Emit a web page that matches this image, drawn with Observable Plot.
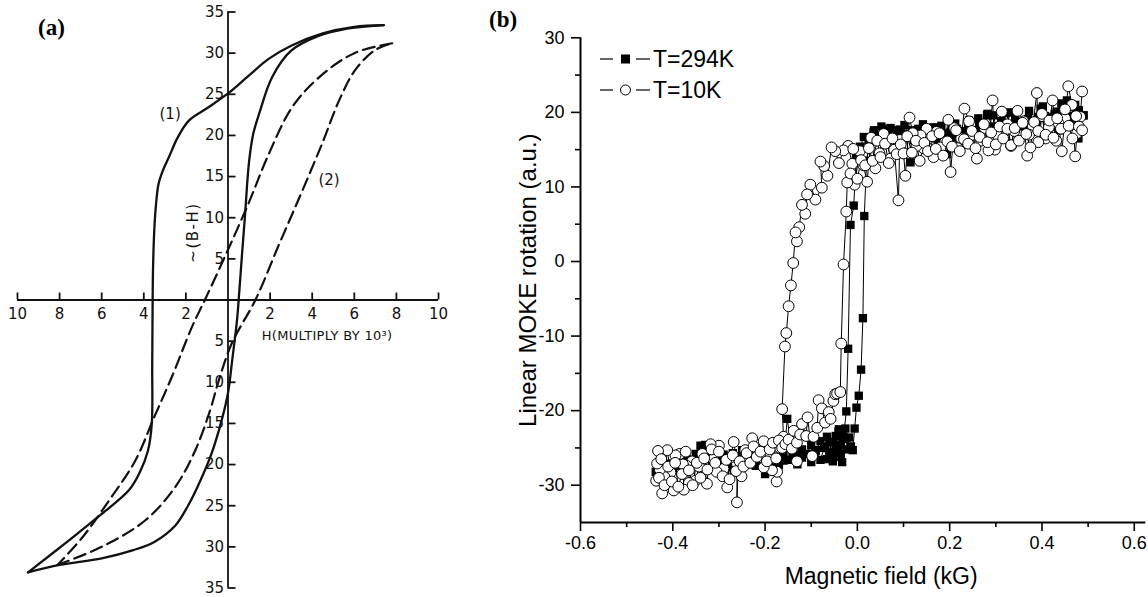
<!DOCTYPE html>
<html>
<head>
<meta charset="utf-8">
<script src="https://cdn.jsdelivr.net/npm/d3@7"></script>
<script src="https://cdn.jsdelivr.net/npm/@observablehq/plot@0.6"></script>
<style>
  html, body { margin: 0; padding: 0; background: #fff; overflow: hidden; }
  #wrap { position: relative; width: 1148px; height: 597px; }
  #pa { position: absolute; left: 0; top: 0; }
  #pb { position: absolute; left: 470px; top: 0; }
  .plabel { position: absolute; font-family: "Liberation Serif", "Times New Roman", serif; font-weight: bold; font-size: 23px; color: #000; }
</style>
</head>
<body>
<div id="wrap">
  <div id="pa"></div>
  <div id="pb"></div>
  <div class="plabel" style="left:38px; top:15px;">(a)</div>
  <div class="plabel" style="left:489px; top:7px;">(b)</div>
</div>
<script>
// ---------------- Panel (a): B-H hysteresis loops ----------------
const aXTicks = [-10, -8, -6, -4, -2, 2, 4, 6, 8, 10];
const aYTicks = [-35, -30, -25, -20, -15, -10, -5, 5, 10, 15, 20, 25, 30, 35];

// curve (1), solid: descending branch (upper-left) and ascending branch (lower-right)
const loop1Down = [[7.4,33.4],[6,33.2],[4.5,32.4],[3,30.9],[1.93,29.3],[1,27.3],[0,25.1],[-1,23.3],[-1.86,21.8],[-2.4,19.7],[-2.8,17.4],[-3.1,15.7],[-3.3,14.1],[-3.42,11.6],[-3.5,8.6],[-3.56,4],[-3.58,0],[-3.6,-8],[-3.62,-15],[-3.8,-18.3],[-4.2,-21],[-4.7,-23.1],[-6,-26],[-7.6,-29.3],[-9.5,-33.1]];
const loop1Up = [[-9.5,-33.1],[-8,-32.2],[-6,-31.4],[-4.5,-30.4],[-3.5,-29.4],[-2.5,-27.4],[-1.9,-25],[-1.5,-23],[-0.8,-18.8],[-0.3,-14.6],[0,-11.3],[0.2,-7.3],[0.43,-2.4],[0.55,1.5],[0.65,5],[0.8,10],[1,16.8],[1.2,20.2],[1.5,22.8],[2.1,27.1],[3,30.3],[4.3,32.1],[5.5,32.9],[7.4,33.4]];
// curve (2), dashed
const loop2Down = [[7.8,31.2],[6,30],[4.3,27],[3.04,23.4],[1.93,17.7],[1,11.9],[0,6.1],[-1.1,0],[-1.7,-3.2],[-2.66,-9.3],[-3.5,-14.2],[-4.4,-19.5],[-5.66,-24.4],[-6.9,-28.8],[-8.1,-32.2]];
const loop2Up = [[-8.1,-32.2],[-6,-30],[-3.94,-26.8],[-2.5,-22.7],[-1.56,-18.3],[-0.85,-13.4],[-0.43,-9.7],[0.19,-5.2],[1.3,0],[2.4,6.6],[3.5,13.1],[4.47,19],[5.27,24.2],[6.03,27.9],[7,30.4],[7.8,31.2]];

const aFont = "DejaVu Sans, sans-serif";
const fmtAbs = d => String(Math.abs(d));
const ax = d => d[0], ay = d => d[1];

const plotA = Plot.plot({
  width: 460, height: 597,
  marginLeft: 17, marginRight: 22, marginTop: 11.5, marginBottom: 9.5,
  x: {domain: [-10, 10], axis: null},
  y: {domain: [-35, 35], axis: null},
  style: {fontFamily: aFont, background: "white", overflow: "visible"},
  marks: [
    Plot.ruleY([0], {y: d => d, stroke: "#111", strokeWidth: 1.8}),
    Plot.ruleX([0], {x: d => d, stroke: "#111", strokeWidth: 1.8}),
    Plot.ruleX(aXTicks, {x: d => d, y1: () => 0, y2: () => 0.85, stroke: "#111", strokeWidth: 1.8}),
    Plot.ruleY(aYTicks, {y: d => d, x1: () => 0, x2: () => 0.38, stroke: "#111", strokeWidth: 1.8}),
    Plot.text(aXTicks, {x: d => d, y: () => 0, dy: 14, text: fmtAbs, fontSize: 15, fill: "#111"}),
    Plot.text(aYTicks, {x: () => 0, y: d => d, dx: -4, textAnchor: "end", text: fmtAbs, fontSize: 15, fill: "#111"}),
    Plot.line(loop1Down, {x: ax, y: ay, curve: "catmull-rom", stroke: "#111", strokeWidth: 2.3}),
    Plot.line(loop1Up, {x: ax, y: ay, curve: "catmull-rom", stroke: "#111", strokeWidth: 2.3}),
    Plot.line(loop2Down, {x: ax, y: ay, curve: "catmull-rom", stroke: "#111", strokeWidth: 2.2, strokeDasharray: "12,6"}),
    Plot.line(loop2Up, {x: ax, y: ay, curve: "catmull-rom", stroke: "#111", strokeWidth: 2.2, strokeDasharray: "12,6"}),
    Plot.text(["(1)"], {x: () => -2.75, y: () => 22.6, text: d => d, fontSize: 15, fill: "#111"}),
    Plot.text(["(2)"], {x: () => 4.8, y: () => 14.5, text: d => d, fontSize: 15, fill: "#111"}),
    Plot.text(["H(MULTIPLY BY 10³)"], {x: () => 1.6, y: () => -4.4, text: d => d, textAnchor: "start", fontSize: 13, fill: "#111"}),
    Plot.text(["~(B-H)"], {x: () => -1.66, y: () => 8.2, text: d => d, rotate: -90, fontSize: 15, fill: "#111"})
  ]
});
document.getElementById("pa").appendChild(plotA);
d3.select(plotA).selectAll("text").filter(function () { return this.textContent.includes("MULTIPLY"); }).style("letter-spacing", "0.3px");
d3.select(plotA).selectAll("text").filter(function () { return this.textContent === "~(B-H)"; }).style("letter-spacing", "1.5px");

// ---------------- Panel (b): MOKE hysteresis ----------------
const bXTicks = [-0.6, -0.4, -0.2, 0, 0.2, 0.4, 0.6];
const bXMinor = [-0.5, -0.3, -0.1, 0.1, 0.3, 0.5];
const bYTicks = [-30, -20, -10, 0, 10, 20, 30];
const bYMinor = [-25, -15, -5, 5, 15, 25];
const seriesNames = ["T=294K", "T=10K"];

// T = 294 K (filled squares): field sweep down, then up
const warmDown = [[0.49,19.6],[0.479,16.5],[0.469,20.7],[0.462,18.6],[0.454,21.6],[0.445,19.2],[0.436,17.6],[0.428,19.8],[0.418,18.1],[0.407,19.5],[0.397,20.5],[0.388,18.2],[0.378,17.4],[0.37,19.1],[0.36,17.8],[0.353,16.9],[0.343,18.4],[0.331,20],[0.322,17.9],[0.312,18.8],[0.303,17.2],[0.295,19.6],[0.281,19.6],[0.272,17.8],[0.264,18.5],[0.259,17.3],[0.25,16.8],[0.24,18.2],[0.229,17.1],[0.216,17.8],[0.205,16.6],[0.194,14.4],[0.186,17.2],[0.175,16.3],[0.165,18],[0.158,16.9],[0.148,17.5],[0.138,16.2],[0.128,17.4],[0.118,17.6],[0.115,13.3],[0.105,16.8],[0.095,17.3],[0.086,17.6],[0.075,16.4],[0.066,17.2],[0.057,17.8],[0.046,16.6],[0.035,17.3],[0.024,16.2],[0.014,16.7],[0.006,15.4],[-0.002,14.2],[-0.008,7.5],[-0.015,4.9],[-0.02,-11.7],[-0.024,-20.1],[-0.03,-23.5],[-0.036,-25.8],[-0.041,-22.8],[-0.047,-25.3],[-0.053,-26.8],[-0.06,-24.2],[-0.066,-26.5],[-0.072,-25],[-0.08,-26.6],[-0.09,-25.4],[-0.1,-26.9],[-0.11,-25.8],[-0.12,-26.3],[-0.13,-27.2],[-0.14,-26.1],[-0.152,-21.1],[-0.16,-26.7],[-0.17,-27.3],[-0.18,-26.8],[-0.19,-27.9],[-0.2,-28.5],[-0.21,-27],[-0.22,-26.4],[-0.23,-27.2],[-0.24,-25.9],[-0.25,-26.8],[-0.26,-27.3],[-0.27,-26.5],[-0.28,-27.6],[-0.29,-26.2],[-0.3,-25.8],[-0.315,-26.7],[-0.325,-25.9],[-0.33,-24.6],[-0.34,-24.7],[-0.35,-26.6],[-0.36,-27.4],[-0.37,-26.8],[-0.38,-27.9],[-0.39,-27.4],[-0.405,-27.7],[-0.415,-28.1],[-0.425,-27.6],[-0.437,-28.2]];
const warmUp = [[-0.43,-27.5],[-0.42,-28.2],[-0.41,-27.1],[-0.4,-27.8],[-0.39,-26.9],[-0.38,-27.6],[-0.37,-26.5],[-0.36,-27.2],[-0.35,-25.8],[-0.34,-26.4],[-0.33,-25.2],[-0.32,-26.1],[-0.31,-25.5],[-0.3,-26.7],[-0.29,-25.9],[-0.28,-26.8],[-0.27,-25.7],[-0.26,-26.4],[-0.25,-25.3],[-0.24,-26.1],[-0.23,-26.8],[-0.22,-27.4],[-0.21,-26.6],[-0.2,-27.2],[-0.19,-26.9],[-0.18,-27.5],[-0.17,-26.4],[-0.16,-25.9],[-0.15,-26.6],[-0.14,-25.5],[-0.13,-26],[-0.12,-25.2],[-0.11,-25.8],[-0.1,-24.6],[-0.09,-25.3],[-0.08,-24.1],[-0.07,-24.8],[-0.066,-23.5],[-0.06,-25.6],[-0.055,-24.2],[-0.05,-26.2],[-0.047,-23.4],[-0.043,-25.1],[-0.04,-22.5],[-0.036,-24.6],[-0.033,-26.9],[-0.03,-23.8],[-0.026,-22.4],[-0.022,-25.2],[-0.018,-23.6],[-0.014,-24.8],[-0.01,-25.3],[-0.006,-22.4],[-0.002,-19.6],[0.003,-18],[0.008,-14.5],[0.012,-7.6],[0.015,6.1],[0.02,13.5],[0.028,16.2],[0.036,17.6],[0.044,16.9],[0.052,18.1],[0.062,17.2],[0.072,17.9],[0.082,16.5],[0.092,17.7],[0.102,18.3],[0.112,17.1],[0.122,16.3],[0.132,17.8],[0.142,18.4],[0.152,17],[0.162,16.6],[0.172,17.9],[0.182,18.2],[0.192,16.8],[0.202,17.4],[0.212,18.5],[0.222,16.7],[0.232,17.5],[0.242,18.9],[0.252,17.6],[0.262,19.2],[0.272,18.3],[0.282,19.8],[0.292,18.1],[0.302,17.5],[0.312,18.8],[0.322,19.9],[0.332,18.2],[0.342,19.1],[0.352,17.7],[0.362,18.9],[0.372,20.2],[0.382,18.6],[0.392,19.4],[0.402,20.8],[0.412,19.3],[0.422,18.2],[0.432,20.1],[0.442,21.2],[0.452,20.4],[0.462,19.5],[0.472,21],[0.48,20.3],[0.49,19.6]];

// T = 10 K (open circles): field sweep down, then up
const coldDown = [[0.487,22.8],[0.483,19.4],[0.476,17.2],[0.472,14.1],[0.465,21],[0.457,23.5],[0.45,19.2],[0.443,14.8],[0.436,18.5],[0.431,16.2],[0.423,21.6],[0.415,18],[0.408,16.5],[0.4,19.5],[0.392,16],[0.389,22.6],[0.38,18.2],[0.372,17],[0.368,14.2],[0.36,18.8],[0.353,16.9],[0.347,20.2],[0.34,17.5],[0.333,15.5],[0.325,18.4],[0.313,20.1],[0.305,16.8],[0.298,15],[0.293,21.6],[0.284,14.9],[0.276,17.9],[0.268,16.2],[0.259,13.8],[0.25,17],[0.242,18.8],[0.232,20.5],[0.225,16.5],[0.217,15.2],[0.21,17.9],[0.202,12],[0.197,19],[0.19,16],[0.18,15.3],[0.172,17.4],[0.165,14],[0.158,16.6],[0.15,17.8],[0.143,15.2],[0.137,16.9],[0.128,15.5],[0.12,17.2],[0.113,19.3],[0.104,11.5],[0.1,14.5],[0.092,16.3],[0.089,8.2],[0.08,15],[0.072,13.8],[0.064,16],[0.057,17.1],[0.048,14.5],[0.039,12.5],[0.03,16.6],[0.021,10.7],[0.013,12.9],[0.005,14.8],[-0.006,10.3],[-0.011,13.1],[-0.02,15.5],[-0.03,14.9],[-0.04,13.2],[-0.048,14.8],[-0.056,15.3],[-0.065,11.5],[-0.072,12.8],[-0.08,13.4],[-0.077,9.9],[-0.091,8.3],[-0.102,10.3],[-0.109,9],[-0.113,6.4],[-0.12,7.6],[-0.126,4.6],[-0.131,2.7],[-0.134,3.9],[-0.139,-0.2],[-0.144,-3.2],[-0.149,-6],[-0.154,-9.6],[-0.157,-11.4],[-0.163,-19.8],[-0.16,-23.5],[-0.168,-25],[-0.175,-29.5],[-0.174,-28.2],[-0.185,-28],[-0.192,-25.7],[-0.203,-27.6],[-0.21,-26.2],[-0.217,-25.3],[-0.228,-23.7],[-0.236,-26.4],[-0.243,-25.3],[-0.251,-28.8],[-0.258,-27],[-0.261,-32.3],[-0.261,-27.1],[-0.268,-24.2],[-0.275,-26.3],[-0.282,-30.3],[-0.29,-27.8],[-0.3,-24.7],[-0.305,-28.2],[-0.312,-26.5],[-0.318,-24.5],[-0.326,-29.8],[-0.336,-25.8],[-0.343,-27.5],[-0.351,-29.4],[-0.358,-26.8],[-0.365,-29.7],[-0.37,-27.4],[-0.376,-30.6],[-0.378,-27.2],[-0.385,-25.8],[-0.394,-26],[-0.398,-30.7],[-0.405,-28.3],[-0.412,-25.3],[-0.418,-28.9],[-0.423,-31.1],[-0.428,-27.9],[-0.432,-25.4],[-0.434,-27.1],[-0.436,-29.4]];
const coldUp = [[-0.43,-29],[-0.425,-26.5],[-0.418,-30],[-0.41,-27.5],[-0.402,-29.5],[-0.395,-27],[-0.388,-30.2],[-0.38,-28.5],[-0.372,-25.5],[-0.365,-28],[-0.357,-30],[-0.348,-27],[-0.34,-29],[-0.332,-26.4],[-0.325,-27.9],[-0.316,-25.2],[-0.308,-27],[-0.3,-25.5],[-0.292,-28.8],[-0.284,-26.6],[-0.277,-29.2],[-0.27,-26],[-0.263,-28.1],[-0.255,-26.8],[-0.247,-27.5],[-0.24,-25.7],[-0.232,-27],[-0.225,-24.8],[-0.218,-26.2],[-0.21,-25.5],[-0.203,-24.1],[-0.196,-26.8],[-0.19,-25.2],[-0.183,-24.3],[-0.176,-26.4],[-0.17,-24],[-0.163,-25],[-0.156,-24.5],[-0.149,-23.9],[-0.142,-25.1],[-0.138,-22.7],[-0.131,-24.3],[-0.131,-26.8],[-0.124,-23.2],[-0.12,-21.8],[-0.111,-23.4],[-0.108,-20.9],[-0.098,-26.1],[-0.095,-23.5],[-0.087,-22.3],[-0.084,-18.6],[-0.077,-19.7],[-0.07,-21.6],[-0.062,-20.2],[-0.058,-21.1],[-0.052,-18.7],[-0.048,-17.8],[-0.044,-17.7],[-0.037,-17.5],[-0.035,-11],[-0.03,-0.4],[-0.024,6.7],[-0.022,10.6],[-0.015,11.8],[-0.009,15.1],[0,11.1],[0.008,13.6],[0.017,12.9],[0.025,15.2],[0.033,13.5],[0.043,16.2],[0.05,14],[0.06,15.8],[0.068,13.2],[0.076,16.5],[0.085,14.4],[0.094,15.7],[0.1,14.5],[0.108,16.8],[0.118,14.6],[0.127,16.2],[0.135,13.5],[0.145,15.9],[0.153,14.8],[0.162,16.8],[0.17,15.1],[0.178,17.2],[0.186,14.2],[0.195,16.1],[0.205,15.4],[0.214,17.6],[0.222,14.8],[0.231,16.4],[0.24,15.8],[0.248,17.5],[0.256,15.2],[0.265,16.7],[0.274,18.4],[0.282,16],[0.29,17.3],[0.3,15.7],[0.308,18.1],[0.316,16.5],[0.325,17.8],[0.333,15.6],[0.341,17.9],[0.35,16.2],[0.358,18.6],[0.366,17.1],[0.375,15.3],[0.383,18.7],[0.392,17.5],[0.4,19.8],[0.408,17],[0.416,18.9],[0.425,16.6],[0.433,19.2],[0.441,17.8],[0.45,20.4],[0.458,18.2],[0.466,16.5],[0.474,19.5],[0.48,18.1],[0.487,17.6]];

const bFont = "Liberation Sans, Arial, Helvetica, sans-serif";
const fmtX = d => d.toFixed(1);
const innerH = 597 - 37.3 - 75;
const innerW = 678 - 110 - 2.7;
const px = d => d[0], py = d => d[1];

const plotB = Plot.plot({
  width: 678, height: 597,
  marginLeft: 110, marginRight: 2.7, marginTop: 37.3, marginBottom: 75,
  x: {domain: [-0.6, 0.625], axis: null},
  y: {domain: [-35, 30], axis: null},
  style: {fontFamily: bFont, background: "transparent", overflow: "visible"},
  marks: [
    // axes
    Plot.ruleX(bXTicks, {x: d => d, insetTop: innerH, insetBottom: -9, stroke: "#000", strokeWidth: 1.6}),
    Plot.ruleX(bXMinor, {x: d => d, insetTop: innerH, insetBottom: -5, stroke: "#000", strokeWidth: 1.6}),
    Plot.ruleY(bYTicks, {y: d => d, insetRight: innerW, insetLeft: -9, stroke: "#000", strokeWidth: 1.6}),
    Plot.ruleY(bYMinor, {y: d => d, insetRight: innerW, insetLeft: -5, stroke: "#000", strokeWidth: 1.6}),
    Plot.ruleY([-35], {y: d => d, stroke: "#000", strokeWidth: 2}),
    Plot.ruleX([-0.6], {x: d => d, stroke: "#000", strokeWidth: 2}),
    Plot.text(bXTicks, {x: d => d, frameAnchor: "bottom", dy: 26, text: fmtX, fontSize: 18, fill: "#000"}),
    Plot.text(bYTicks, {y: d => d, frameAnchor: "left", dx: -16, textAnchor: "end", text: d => String(d), fontSize: 18, fill: "#000"}),
    Plot.text(["Magnetic field (kG)"], {frameAnchor: "bottom", dx: 18, dy: 61, textAnchor: "middle", text: d => d, fontSize: 23, fill: "#000"}),
    Plot.text(["Linear MOKE rotation (a.u.)"], {frameAnchor: "left", dx: -52, rotate: -90, textAnchor: "middle", text: d => d, fontSize: 24, fill: "#000"}),
    // 294 K
    Plot.line(warmDown, {x: px, y: py, stroke: "#000", strokeWidth: 1}),
    Plot.line(warmUp, {x: px, y: py, stroke: "#000", strokeWidth: 1}),
    Plot.dot(warmDown, {x: px, y: py, symbol: "square", r: 4.7, fill: "#000"}),
    Plot.dot(warmUp, {x: px, y: py, symbol: "square", r: 4.7, fill: "#000"}),
    // 10 K
    Plot.line(coldDown, {x: px, y: py, stroke: "#000", strokeWidth: 1}),
    Plot.line(coldUp, {x: px, y: py, stroke: "#000", strokeWidth: 1}),
    Plot.dot(coldDown, {x: px, y: py, r: 5.4, fill: "#fff", stroke: "#000", strokeWidth: 1}),
    Plot.dot(coldUp, {x: px, y: py, r: 5.4, fill: "#fff", stroke: "#000", strokeWidth: 1})
  ]
});
document.getElementById("pb").appendChild(plotB);

// legend (drawn in the panel's own svg, positioned in pixels)
const lg = d3.select(plotB).append("g").attr("aria-label", "legend").attr("font-family", bFont);
seriesNames.forEach((name, i) => {
  const cy = 59 + i * 31, x0 = 130;
  lg.append("line").attr("x1", x0).attr("x2", x0 + 13).attr("y1", cy).attr("y2", cy).attr("stroke", "#000").attr("stroke-width", 1.2);
  lg.append("line").attr("x1", x0 + 36).attr("x2", x0 + 50).attr("y1", cy).attr("y2", cy).attr("stroke", "#000").attr("stroke-width", 1.2);
  if (i === 0) {
    lg.append("rect").attr("x", x0 + 21).attr("y", cy - 4.5).attr("width", 9).attr("height", 9).attr("fill", "#000");
  } else {
    lg.append("circle").attr("cx", x0 + 25.5).attr("cy", cy).attr("r", 5).attr("fill", "#fff").attr("stroke", "#000").attr("stroke-width", 1);
  }
  lg.append("text").attr("x", x0 + 53).attr("y", cy).attr("dy", "0.36em").attr("text-anchor", "start")
    .attr("font-size", 23).attr("fill", "#000").text(name);
});
</script>
</body>
</html>
